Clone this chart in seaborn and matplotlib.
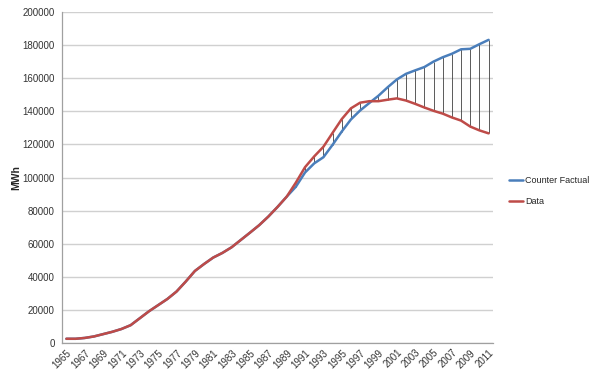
import numpy as np
import pandas as pd
import matplotlib
matplotlib.use("Agg")
from matplotlib import pyplot as plt
import seaborn as sns

years = list(range(1965, 2012))

# Observed consumption (MWh)
data_mwh = [
    2800, 2800, 3300, 4200, 5600, 7000, 8700, 11000, 15200, 19400,
    23100, 26800, 31300, 37300, 43700, 47900, 51800, 54600, 58000, 62400,
    66800, 71300, 76500, 82300, 88500, 97000, 106300, 112800, 118600, 127000,
    135300, 141800, 145200, 146100, 146100, 147000, 147800, 146500, 144500, 142300,
    140300, 138600, 136300, 134400, 130800, 128500, 126700,
]

# Counter factual (MWh)
cf_mwh = [
    2800, 2800, 3300, 4200, 5600, 7000, 8700, 11000, 15200, 19400,
    23100, 26800, 31300, 37300, 43700, 47900, 51800, 54600, 58000, 62400,
    66800, 71300, 76500, 82300, 88500, 94500, 103100, 108600, 112300, 119800,
    127800, 135100, 140500, 145000, 149400, 154500, 159200, 162600, 164700, 166700,
    170000, 172600, 174700, 177400, 177700, 180500, 183100,
]

series_names = ["Counter Factual", "Data"]
colors = {"Counter Factual": "#4A7EBB", "Data": "#BE4B48"}

df = pd.concat(
    [
        pd.DataFrame({"Year": years, "MWh": cf_mwh, "Series": series_names[0]}),
        pd.DataFrame({"Year": years, "MWh": data_mwh, "Series": series_names[1]}),
    ],
    ignore_index=True,
)

sns.set_style("white")
plt.rcParams["font.family"] = ["Liberation Sans", "DejaVu Sans"]

fig = plt.figure(figsize=(6, 3.82), dpi=100)
ax = fig.add_axes([0.103, 0.101, 0.719, 0.868])

# high-low lines between the two series
ax.vlines(years, data_mwh, cf_mwh, colors="#404040", linewidth=0.6, zorder=1)

sns.lineplot(
    data=df, x="Year", y="MWh", hue="Series", palette=colors,
    linewidth=1.8, ax=ax, zorder=3,
)

ax.set_xlim(1964.5, 2011.5)
ax.set_ylim(0, 200000)
ax.set_yticks(np.arange(0, 200001, 20000))
ax.set_yticklabels([str(v) for v in range(0, 200001, 20000)], fontsize=7, color="#333333")
ax.set_xticks(years[::2])
ax.set_xticklabels([str(y) for y in years[::2]], rotation=45, ha="right",
                   rotation_mode="anchor", fontsize=7, color="#333333")
ax.set_xlabel("")
ax.set_ylabel("MWh", fontsize=7.5, fontweight="bold", labelpad=1)

ax.grid(axis="y", color="#d0d0d0", linewidth=1)
ax.set_axisbelow(True)
for side in ["top", "right"]:
    ax.spines[side].set_visible(False)
for side in ["left", "bottom"]:
    ax.spines[side].set_color("#a0a0a0")
    ax.spines[side].set_linewidth(0.9)
ax.tick_params(axis="y", length=3, color="#a0a0a0", pad=2)
ax.tick_params(axis="x", length=0, pad=3)

ax.legend(
    loc="center left", bbox_to_anchor=(1.037, 0.46), frameon=False,
    fontsize=6.5, handlelength=1.5, handletextpad=0.3, labelspacing=1.3,
    borderpad=0, borderaxespad=0, title=None,
)

fig.savefig("out.png", dpi=100)
